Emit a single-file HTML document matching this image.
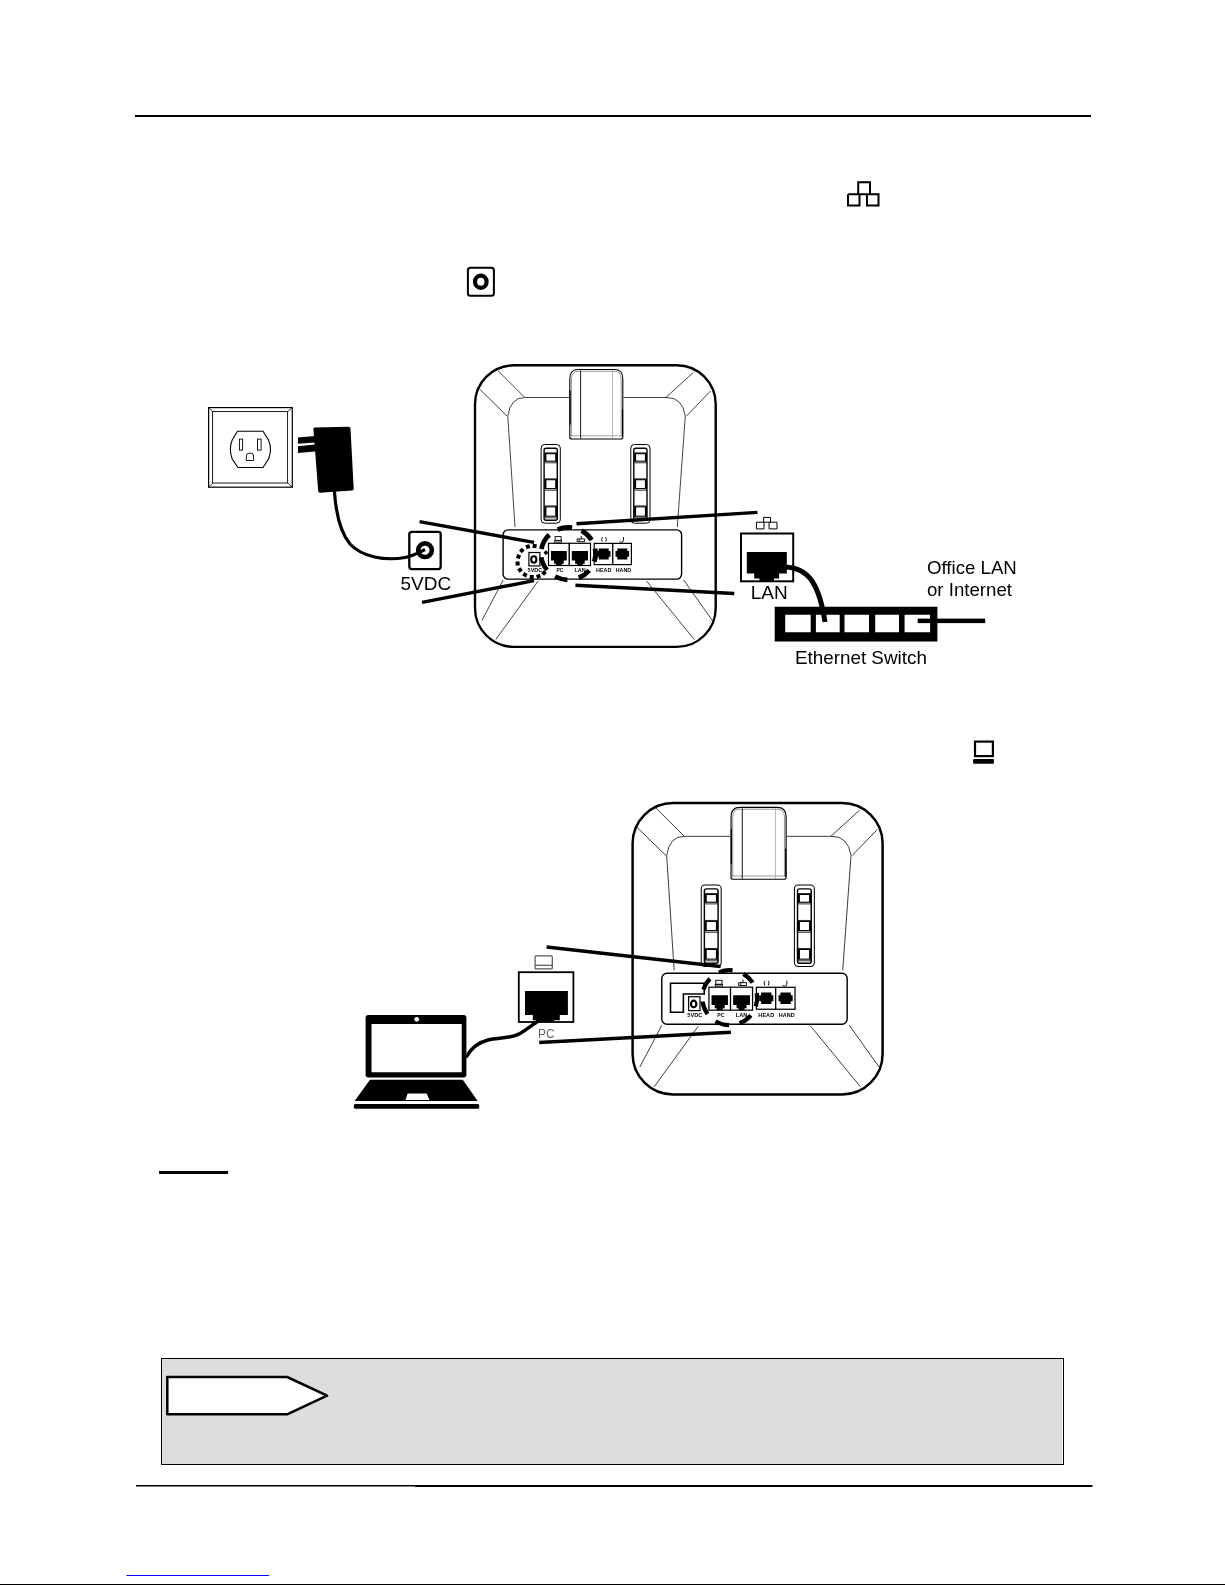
<!DOCTYPE html>
<html><head><meta charset="utf-8"><style>
html,body{margin:0;padding:0;background:#fff;width:1225px;height:1585px;overflow:hidden}
svg{position:absolute;left:0;top:0;display:block;will-change:transform}
</style></head><body>
<svg width="1225" height="1585" viewBox="0 0 1225 1585">
<rect x="135" y="115" width="956" height="2" fill="#000"/>
<path d="M858.2,194.2 V182.3 H870 V194.2 M848,194.2 H878.5 V205.6 H867 V194.2 M848,194.2 V205.6 H859.5 V194.2" fill="none" stroke="#000" stroke-width="2"/>
<rect x="467.9" y="267.8" width="26" height="27.9" rx="2.5" fill="none" stroke="#000" stroke-width="2"/>
<ellipse cx="480.8" cy="281.7" rx="5.8" ry="6.1" fill="none" stroke="#000" stroke-width="4.2"/>
<rect x="208.6" y="407.6" width="83.7" height="79.6" fill="#fff" stroke="#000" stroke-width="1.2"/>
<rect x="212.6" y="411.6" width="75" height="71.4" fill="none" stroke="#000" stroke-width="0.9"/>
<path d="M208.6,407.6 L212.9,411.7 M292.3,407.6 L287.6,411.7 M208.6,487.2 L212.9,482.9 M292.3,487.2 L287.6,482.9" stroke="#000" stroke-width="0.8"/>
<path d="M237.5,431.3 H263 L268.5,440 Q272.5,449.5 268.5,459 L263,467.5 H238 L232.2,459 Q228.5,449.5 232.2,440 Z" fill="#fff" stroke="#000" stroke-width="1.1"/>
<rect x="239.4" y="439.1" width="3.2" height="11" fill="none" stroke="#000" stroke-width="0.9"/>
<rect x="257.5" y="439.1" width="3.6" height="11" fill="none" stroke="#000" stroke-width="0.9"/>
<path d="M246.3,460.5 V456 Q246.3,453 250,453 Q253.6,453 253.6,456 V460.5 Z" fill="none" stroke="#000" stroke-width="0.9"/>
<path d="M313.4,429 Q313,427.8 315,427.6 L348.5,426.7 Q350.4,426.7 350.5,428.5 L353.7,488.5 Q353.8,490.3 352,490.5 L320,492.8 Q318.3,492.9 318.2,491 Z" fill="#000"/>
<path d="M298,437.6 L315,436 V442.5 L298,443.8 Z M298,446.2 L315,444.6 V451.4 L298,452.9 Z" fill="#000"/>
<rect x="409.3" y="531.8" width="31.4" height="37.3" rx="2.5" fill="#fff" stroke="#000" stroke-width="2.3"/>
<circle cx="425" cy="550.2" r="6.8" fill="none" stroke="#000" stroke-width="4.6"/>
<path d="M334.4,491 C336,515 340,532 350,544 C362,557 385,561 405,557.5 C414,555.5 420,552 425,549.5" fill="none" stroke="#000" stroke-width="3.2"/>
<text x="400.5" y="589.6" font-family="Liberation Sans" font-size="19" fill="#000">5VDC</text>
<g transform="translate(474.5,364.5)"><rect x="0.5" y="0.8" width="240.7" height="281.6" rx="39" ry="39" fill="#fff" stroke="#000" stroke-width="2.4"/>
<path d="M50,33 H94.5 M149,33 H192.5 Q208,33 210.8,51.5 L202.8,162.5 M50,33 Q36,33 33.3,51.5 L40.5,162.5" stroke="#222" stroke-width="0.85" fill="none"/>
<line x1="23.1" y1="5.8" x2="50.2" y2="32.9" stroke="#222" stroke-width="0.85" fill="none"/>
<line x1="4.7" y1="24.2" x2="32.6" y2="51.7" stroke="#222" stroke-width="0.85" fill="none"/>
<line x1="219" y1="7.8" x2="191.4" y2="32.9" stroke="#222" stroke-width="0.85" fill="none"/>
<line x1="236.3" y1="26.2" x2="211.8" y2="51.7" stroke="#222" stroke-width="0.85" fill="none"/>
<line x1="28.7" y1="215.5" x2="7.5" y2="255.9" stroke="#222" stroke-width="0.85" fill="none"/>
<line x1="63.7" y1="216.5" x2="21.3" y2="275" stroke="#222" stroke-width="0.85" fill="none"/>
<line x1="172" y1="216.5" x2="219.8" y2="275" stroke="#222" stroke-width="0.85" fill="none"/>
<line x1="209.1" y1="215.5" x2="237.8" y2="255.9" stroke="#222" stroke-width="0.85" fill="none"/>
<path d="M95.3,74 V14 Q95.3,5 104,5 H139.6 Q148.3,5 148.3,14 V72.5 Q148.3,74.5 146.3,74.5 H97.3 Q95.3,74.5 95.3,72.5 Z" fill="#fff" stroke="#000" stroke-width="1.1"/>
<path d="M96.9,72 V14.5 Q96.9,6.8 104.5,6.8 H139 Q146.7,6.8 146.7,14.5 V72" fill="none" stroke="#555" stroke-width="0.6"/>
<line x1="95.3" y1="71.3" x2="148.3" y2="71.3" stroke="#666" stroke-width="0.6"/>
<path d="M95.6,26 V60" stroke="#000" stroke-width="1.2"/>
<path d="M148,45 V72" stroke="#000" stroke-width="1.2"/>
<line x1="106.1" y1="6" x2="106.1" y2="74" stroke="#000" stroke-width="0.9"/>
<line x1="138" y1="6" x2="138" y2="74" stroke="#999" stroke-width="0.7"/>
<rect x="66.6" y="80" width="19.2" height="78.7" rx="3.5" fill="#fff" stroke="#000" stroke-width="1"/>
<rect x="69.6" y="83.8" width="13.2" height="71.9" rx="2" fill="#fff" stroke="#000" stroke-width="1.4"/>
<rect x="70.6" y="89.2" width="11.4" height="7.5" fill="none" stroke="#000" stroke-width="1.1"/>
<rect x="70.2" y="89.2" width="1.7" height="7.5" fill="#000"/>
<rect x="80.7" y="89.2" width="1.7" height="7.5" fill="#000"/>
<line x1="70.0" y1="98.3" x2="82.6" y2="98.3" stroke="#000" stroke-width="0.8"/>
<line x1="70.0" y1="88.3" x2="82.6" y2="88.3" stroke="#000" stroke-width="0.8"/>
<rect x="70.6" y="115.2" width="11.4" height="8.899999999999991" fill="none" stroke="#000" stroke-width="1.1"/>
<rect x="70.2" y="115.2" width="1.7" height="8.899999999999991" fill="#000"/>
<rect x="80.7" y="115.2" width="1.7" height="8.899999999999991" fill="#000"/>
<line x1="70.0" y1="125.69999999999999" x2="82.6" y2="125.69999999999999" stroke="#000" stroke-width="0.8"/>
<line x1="70.0" y1="114.3" x2="82.6" y2="114.3" stroke="#000" stroke-width="0.8"/>
<rect x="70.6" y="142.3" width="11.4" height="9.399999999999977" fill="none" stroke="#000" stroke-width="1.1"/>
<rect x="70.2" y="142.3" width="1.7" height="9.399999999999977" fill="#000"/>
<rect x="80.7" y="142.3" width="1.7" height="9.399999999999977" fill="#000"/>
<line x1="70.0" y1="153.29999999999998" x2="82.6" y2="153.29999999999998" stroke="#000" stroke-width="0.8"/>
<line x1="70.0" y1="141.4" x2="82.6" y2="141.4" stroke="#000" stroke-width="0.8"/>
<rect x="156.3" y="80" width="19.2" height="78.7" rx="3.5" fill="#fff" stroke="#000" stroke-width="1"/>
<rect x="159.3" y="83.8" width="13.2" height="71.9" rx="2" fill="#fff" stroke="#000" stroke-width="1.4"/>
<rect x="160.3" y="89.2" width="11.4" height="7.5" fill="none" stroke="#000" stroke-width="1.1"/>
<rect x="159.9" y="89.2" width="1.7" height="7.5" fill="#000"/>
<rect x="170.4" y="89.2" width="1.7" height="7.5" fill="#000"/>
<line x1="159.7" y1="98.3" x2="172.3" y2="98.3" stroke="#000" stroke-width="0.8"/>
<line x1="159.7" y1="88.3" x2="172.3" y2="88.3" stroke="#000" stroke-width="0.8"/>
<rect x="160.3" y="115.2" width="11.4" height="8.899999999999991" fill="none" stroke="#000" stroke-width="1.1"/>
<rect x="159.9" y="115.2" width="1.7" height="8.899999999999991" fill="#000"/>
<rect x="170.4" y="115.2" width="1.7" height="8.899999999999991" fill="#000"/>
<line x1="159.7" y1="125.69999999999999" x2="172.3" y2="125.69999999999999" stroke="#000" stroke-width="0.8"/>
<line x1="159.7" y1="114.3" x2="172.3" y2="114.3" stroke="#000" stroke-width="0.8"/>
<rect x="160.3" y="142.3" width="11.4" height="9.399999999999977" fill="none" stroke="#000" stroke-width="1.1"/>
<rect x="159.9" y="142.3" width="1.7" height="9.399999999999977" fill="#000"/>
<rect x="170.4" y="142.3" width="1.7" height="9.399999999999977" fill="#000"/>
<line x1="159.7" y1="153.29999999999998" x2="172.3" y2="153.29999999999998" stroke="#000" stroke-width="0.8"/>
<line x1="159.7" y1="141.4" x2="172.3" y2="141.4" stroke="#000" stroke-width="0.8"/>
<rect x="28.6" y="165.4" width="178.5" height="49.2" rx="5" fill="#fff" stroke="#000" stroke-width="1.4"/>
<rect x="54.4" y="188" width="11" height="13.4" fill="#fff" stroke="#000" stroke-width="1.2"/>
<ellipse cx="59.3" cy="195" rx="2.6" ry="3.2" fill="none" stroke="#000" stroke-width="2.1"/>
<rect x="74.0" y="178.8" width="20.799999999999997" height="22.2" fill="#fff" stroke="#000" stroke-width="1.2"/>
<path d="M76.5,186.5 H92.3 V196.1 H89.2 V199.2 H87.30000000000001 V201 H81.5 V199.2 H79.60000000000001 V196.1 H76.5 Z" fill="#000"/>
<rect x="94.8" y="178.8" width="21.200000000000003" height="22.2" fill="#fff" stroke="#000" stroke-width="1.2"/>
<path d="M97.3,186.5 H113.5 V196.1 H110.2 V199.2 H108.30000000000001 V201 H102.5 V199.2 H100.60000000000001 V196.1 H97.3 Z" fill="#000"/>
<rect x="119.7" y="178.9" width="18.60000000000001" height="21.2" fill="#fff" stroke="#000" stroke-width="1.2"/>
<path d="M124.19999999999999,183.9 H134.2 V186.5 H136.0 V192.3 H134.2 V195.1 H124.19999999999999 V192.3 H122.39999999999999 V186.5 H124.19999999999999 Z" fill="#000"/>
<rect x="138.3" y="178.9" width="18.599999999999994" height="21.2" fill="#fff" stroke="#000" stroke-width="1.2"/>
<path d="M142.8,183.9 H152.8 V186.5 H154.60000000000002 V192.3 H152.8 V195.1 H142.8 V192.3 H141.0 V186.5 H142.8 Z" fill="#000"/>
<rect x="80.6" y="172.1" width="6" height="3.8" fill="none" stroke="#000" stroke-width="0.9"/><rect x="80.1" y="176.2" width="7" height="1.5" fill="none" stroke="#000" stroke-width="0.8"/>
<path d="M102.6,174.4 h7.6 v2.8 h-7.6 z M104.7,174.4 v2.8 M106.8,171.4 v3" fill="none" stroke="#000" stroke-width="0.9"/>
<path d="M127.6,177.2 q-1,-2.5 0.3,-4.5 M131.3,172.7 q1,2 0,4.5" fill="none" stroke="#000" stroke-width="0.9"/>
<path d="M149,172.5 v3.3 q0,2 -2,2 l-2,-0.6" fill="none" stroke="#000" stroke-width="0.9"/>
<text x="60.4" y="207.3" textLength="14.6" lengthAdjust="spacingAndGlyphs" font-family="Liberation Sans" font-weight="bold" font-size="5.8" fill="#000" text-anchor="middle">5VDC</text>
<text x="85.5" y="207.3" textLength="6.9" lengthAdjust="spacingAndGlyphs" font-family="Liberation Sans" font-weight="bold" font-size="5.8" fill="#000" text-anchor="middle">PC</text>
<text x="105.5" y="207.3" textLength="11.2" lengthAdjust="spacingAndGlyphs" font-family="Liberation Sans" font-weight="bold" font-size="5.8" fill="#000" text-anchor="middle">LAN</text>
<text x="129.2" y="207.3" textLength="15.2" lengthAdjust="spacingAndGlyphs" font-family="Liberation Sans" font-weight="bold" font-size="5.8" fill="#000" text-anchor="middle">HEAD</text>
<text x="148.9" y="207.3" textLength="15.3" lengthAdjust="spacingAndGlyphs" font-family="Liberation Sans" font-weight="bold" font-size="5.8" fill="#000" text-anchor="middle">HAND</text></g>
<rect x="532.60" y="544.00" width="4" height="4" transform="rotate(-81.6 534.60 546.00)" fill="#000"/>
<rect x="525.90" y="544.70" width="4" height="4" transform="rotate(-106.6 527.90 546.70)" fill="#000"/>
<rect x="519.80" y="548.50" width="4" height="4" transform="rotate(-133.7 521.80 550.50)" fill="#000"/>
<rect x="516.50" y="554.60" width="4" height="4" transform="rotate(-160.5 518.50 556.60)" fill="#000"/>
<rect x="515.60" y="561.50" width="4" height="4" transform="rotate(172.3 517.60 563.50)" fill="#000"/>
<rect x="518.00" y="568.00" width="4" height="4" transform="rotate(145.4 520.00 570.00)" fill="#000"/>
<rect x="523.00" y="572.70" width="4" height="4" transform="rotate(118.9 525.00 574.70)" fill="#000"/>
<rect x="529.70" y="575.00" width="4" height="4" transform="rotate(92.2 531.70 577.00)" fill="#000"/>
<rect x="536.50" y="574.30" width="4" height="4" transform="rotate(67.3 538.50 576.30)" fill="#000"/>
<rect x="542.00" y="571.00" width="4" height="4" transform="rotate(44.5 544.00 573.00)" fill="#000"/>
<rect x="544.20" y="551.00" width="3.4" height="3.4" transform="rotate(-32.9 545.90 552.70)" fill="#000"/>
<path d="M557.63,529.48 A27.3,26.2 0 0 1 572.10,527.65" stroke="#000" stroke-width="4.7" fill="none" stroke-linecap="butt"/>
<path d="M581.54,530.68 A27.3,26.2 0 0 1 591.58,539.91" stroke="#000" stroke-width="4.7" fill="none" stroke-linecap="butt"/>
<path d="M595.10,548.60 A27.3,26.2 0 0 1 594.22,561.83" stroke="#000" stroke-width="4.7" fill="none" stroke-linecap="butt"/>
<path d="M589.21,570.44 A27.3,26.2 0 0 1 578.79,577.79" stroke="#000" stroke-width="4.7" fill="none" stroke-linecap="butt"/>
<path d="M567.39,579.79 A27.3,26.2 0 0 1 555.06,576.52" stroke="#000" stroke-width="4.7" fill="none" stroke-linecap="butt"/>
<path d="M547.08,570.09 A27.3,26.2 0 0 1 541.27,557.25" stroke="#000" stroke-width="4.7" fill="none" stroke-linecap="butt"/>
<path d="M541.41,549.05 A27.3,26.2 0 0 1 549.27,534.82" stroke="#000" stroke-width="4.7" fill="none" stroke-linecap="butt"/>
<line x1="419.6" y1="521.6" x2="534" y2="542.4" stroke="#000" stroke-width="3.4" stroke-linecap="butt"/>
<line x1="422" y1="602.4" x2="534" y2="580.6" stroke="#000" stroke-width="3.4" stroke-linecap="butt"/>
<line x1="576.5" y1="523.7" x2="757.5" y2="512.4" stroke="#000" stroke-width="3.4" stroke-linecap="butt"/>
<line x1="575.4" y1="585.2" x2="734.3" y2="593.5" stroke="#000" stroke-width="3.4" stroke-linecap="butt"/>
<path d="M763.6,522.2 V517.4 H770.5 V522.2 M756.4,522.2 H777 V528.9 H769.1 V522.2 M756.4,522.2 V528.9 H764 V522.2" fill="none" stroke="#000" stroke-width="1"/>
<rect x="741" y="533.5" width="52.2" height="47.8" fill="#fff" stroke="#000" stroke-width="2"/>
<path d="M746.8,552 H786.8 V573.5 H779.1 V578.6 H774 V581.5 H759.5 V578.6 H754.2 V573.5 H746.8 Z" fill="#000"/>
<text x="750.8" y="598.6" font-family="Liberation Sans" font-size="19" fill="#000">LAN</text>
<path d="M785,567 C796,567.5 806,572 812,581 C818,590 822,602 825,622" fill="none" stroke="#000" stroke-width="5"/>
<path d="M774.7,606.7 H937.4 V641.6 H774.7 Z M785.2,614.8 V632.2 H810.7 V614.8 Z M815.9,614.8 V632.2 H839.7 V614.8 Z M844.5,614.8 V632.2 H869 V614.8 Z M875.2,614.8 V632.2 H899 V614.8 Z M904.6,614.8 V632.2 H930.1 V614.8 Z" fill="#000" fill-rule="evenodd"/>
<rect x="917.7" y="618.6" width="67.5" height="4.5" fill="#000"/>
<text x="794.9" y="663.7" font-family="Liberation Sans" font-size="18.85" fill="#000">Ethernet Switch</text>
<text x="927" y="574.3" font-family="Liberation Sans" font-size="18.65" fill="#000">Office LAN</text>
<text x="927" y="595.5" font-family="Liberation Sans" font-size="18.65" fill="#000">or Internet</text>
<rect x="975" y="741.6" width="17.9" height="14.5" fill="none" stroke="#000" stroke-width="2.2"/>
<rect x="973.1" y="759.1" width="20.8" height="4.7" rx="1" fill="#000"/>
<g transform="translate(632.08,802.17) scale(1.0386,1.0348)"><rect x="0.5" y="0.8" width="240.7" height="281.6" rx="39" ry="39" fill="#fff" stroke="#000" stroke-width="2.4"/>
<path d="M50,33 H94.5 M149,33 H192.5 Q208,33 210.8,51.5 L202.8,162.5 M50,33 Q36,33 33.3,51.5 L40.5,162.5" stroke="#222" stroke-width="0.85" fill="none"/>
<line x1="23.1" y1="5.8" x2="50.2" y2="32.9" stroke="#222" stroke-width="0.85" fill="none"/>
<line x1="4.7" y1="24.2" x2="32.6" y2="51.7" stroke="#222" stroke-width="0.85" fill="none"/>
<line x1="219" y1="7.8" x2="191.4" y2="32.9" stroke="#222" stroke-width="0.85" fill="none"/>
<line x1="236.3" y1="26.2" x2="211.8" y2="51.7" stroke="#222" stroke-width="0.85" fill="none"/>
<line x1="28.7" y1="215.5" x2="7.5" y2="255.9" stroke="#222" stroke-width="0.85" fill="none"/>
<line x1="63.7" y1="216.5" x2="21.3" y2="275" stroke="#222" stroke-width="0.85" fill="none"/>
<line x1="172" y1="216.5" x2="219.8" y2="275" stroke="#222" stroke-width="0.85" fill="none"/>
<line x1="209.1" y1="215.5" x2="237.8" y2="255.9" stroke="#222" stroke-width="0.85" fill="none"/>
<path d="M95.3,74 V14 Q95.3,5 104,5 H139.6 Q148.3,5 148.3,14 V72.5 Q148.3,74.5 146.3,74.5 H97.3 Q95.3,74.5 95.3,72.5 Z" fill="#fff" stroke="#000" stroke-width="1.1"/>
<path d="M96.9,72 V14.5 Q96.9,6.8 104.5,6.8 H139 Q146.7,6.8 146.7,14.5 V72" fill="none" stroke="#555" stroke-width="0.6"/>
<line x1="95.3" y1="71.3" x2="148.3" y2="71.3" stroke="#666" stroke-width="0.6"/>
<path d="M95.6,26 V60" stroke="#000" stroke-width="1.2"/>
<path d="M148,45 V72" stroke="#000" stroke-width="1.2"/>
<line x1="106.1" y1="6" x2="106.1" y2="74" stroke="#000" stroke-width="0.9"/>
<line x1="138" y1="6" x2="138" y2="74" stroke="#999" stroke-width="0.7"/>
<rect x="66.6" y="80" width="19.2" height="78.7" rx="3.5" fill="#fff" stroke="#000" stroke-width="1"/>
<rect x="69.6" y="83.8" width="13.2" height="71.9" rx="2" fill="#fff" stroke="#000" stroke-width="1.4"/>
<rect x="70.6" y="89.2" width="11.4" height="7.5" fill="none" stroke="#000" stroke-width="1.1"/>
<rect x="70.2" y="89.2" width="1.7" height="7.5" fill="#000"/>
<rect x="80.7" y="89.2" width="1.7" height="7.5" fill="#000"/>
<line x1="70.0" y1="98.3" x2="82.6" y2="98.3" stroke="#000" stroke-width="0.8"/>
<line x1="70.0" y1="88.3" x2="82.6" y2="88.3" stroke="#000" stroke-width="0.8"/>
<rect x="70.6" y="115.2" width="11.4" height="8.899999999999991" fill="none" stroke="#000" stroke-width="1.1"/>
<rect x="70.2" y="115.2" width="1.7" height="8.899999999999991" fill="#000"/>
<rect x="80.7" y="115.2" width="1.7" height="8.899999999999991" fill="#000"/>
<line x1="70.0" y1="125.69999999999999" x2="82.6" y2="125.69999999999999" stroke="#000" stroke-width="0.8"/>
<line x1="70.0" y1="114.3" x2="82.6" y2="114.3" stroke="#000" stroke-width="0.8"/>
<rect x="70.6" y="142.3" width="11.4" height="9.399999999999977" fill="none" stroke="#000" stroke-width="1.1"/>
<rect x="70.2" y="142.3" width="1.7" height="9.399999999999977" fill="#000"/>
<rect x="80.7" y="142.3" width="1.7" height="9.399999999999977" fill="#000"/>
<line x1="70.0" y1="153.29999999999998" x2="82.6" y2="153.29999999999998" stroke="#000" stroke-width="0.8"/>
<line x1="70.0" y1="141.4" x2="82.6" y2="141.4" stroke="#000" stroke-width="0.8"/>
<rect x="156.3" y="80" width="19.2" height="78.7" rx="3.5" fill="#fff" stroke="#000" stroke-width="1"/>
<rect x="159.3" y="83.8" width="13.2" height="71.9" rx="2" fill="#fff" stroke="#000" stroke-width="1.4"/>
<rect x="160.3" y="89.2" width="11.4" height="7.5" fill="none" stroke="#000" stroke-width="1.1"/>
<rect x="159.9" y="89.2" width="1.7" height="7.5" fill="#000"/>
<rect x="170.4" y="89.2" width="1.7" height="7.5" fill="#000"/>
<line x1="159.7" y1="98.3" x2="172.3" y2="98.3" stroke="#000" stroke-width="0.8"/>
<line x1="159.7" y1="88.3" x2="172.3" y2="88.3" stroke="#000" stroke-width="0.8"/>
<rect x="160.3" y="115.2" width="11.4" height="8.899999999999991" fill="none" stroke="#000" stroke-width="1.1"/>
<rect x="159.9" y="115.2" width="1.7" height="8.899999999999991" fill="#000"/>
<rect x="170.4" y="115.2" width="1.7" height="8.899999999999991" fill="#000"/>
<line x1="159.7" y1="125.69999999999999" x2="172.3" y2="125.69999999999999" stroke="#000" stroke-width="0.8"/>
<line x1="159.7" y1="114.3" x2="172.3" y2="114.3" stroke="#000" stroke-width="0.8"/>
<rect x="160.3" y="142.3" width="11.4" height="9.399999999999977" fill="none" stroke="#000" stroke-width="1.1"/>
<rect x="159.9" y="142.3" width="1.7" height="9.399999999999977" fill="#000"/>
<rect x="170.4" y="142.3" width="1.7" height="9.399999999999977" fill="#000"/>
<line x1="159.7" y1="153.29999999999998" x2="172.3" y2="153.29999999999998" stroke="#000" stroke-width="0.8"/>
<line x1="159.7" y1="141.4" x2="172.3" y2="141.4" stroke="#000" stroke-width="0.8"/>
<rect x="28.6" y="165.4" width="178.5" height="49.2" rx="5" fill="#fff" stroke="#000" stroke-width="1.4"/>
<path d="M37,174.9 H69.5 V185.3 H49.4 V203.1 H37 Z" fill="none" stroke="#000" stroke-width="1.5"/>
<rect x="54.4" y="188" width="11" height="13.4" fill="#fff" stroke="#000" stroke-width="1.2"/>
<ellipse cx="59.3" cy="195" rx="2.6" ry="3.2" fill="none" stroke="#000" stroke-width="2.1"/>
<rect x="74.0" y="178.8" width="20.799999999999997" height="22.2" fill="#fff" stroke="#000" stroke-width="1.2"/>
<path d="M76.5,186.5 H92.3 V196.1 H89.2 V199.2 H87.30000000000001 V201 H81.5 V199.2 H79.60000000000001 V196.1 H76.5 Z" fill="#000"/>
<rect x="94.8" y="178.8" width="21.200000000000003" height="22.2" fill="#fff" stroke="#000" stroke-width="1.2"/>
<path d="M97.3,186.5 H113.5 V196.1 H110.2 V199.2 H108.30000000000001 V201 H102.5 V199.2 H100.60000000000001 V196.1 H97.3 Z" fill="#000"/>
<rect x="119.7" y="178.9" width="18.60000000000001" height="21.2" fill="#fff" stroke="#000" stroke-width="1.2"/>
<path d="M124.19999999999999,183.9 H134.2 V186.5 H136.0 V192.3 H134.2 V195.1 H124.19999999999999 V192.3 H122.39999999999999 V186.5 H124.19999999999999 Z" fill="#000"/>
<rect x="138.3" y="178.9" width="18.599999999999994" height="21.2" fill="#fff" stroke="#000" stroke-width="1.2"/>
<path d="M142.8,183.9 H152.8 V186.5 H154.60000000000002 V192.3 H152.8 V195.1 H142.8 V192.3 H141.0 V186.5 H142.8 Z" fill="#000"/>
<rect x="80.6" y="172.1" width="6" height="3.8" fill="none" stroke="#000" stroke-width="0.9"/><rect x="80.1" y="176.2" width="7" height="1.5" fill="none" stroke="#000" stroke-width="0.8"/>
<path d="M102.6,174.4 h7.6 v2.8 h-7.6 z M104.7,174.4 v2.8 M106.8,171.4 v3" fill="none" stroke="#000" stroke-width="0.9"/>
<path d="M127.6,177.2 q-1,-2.5 0.3,-4.5 M131.3,172.7 q1,2 0,4.5" fill="none" stroke="#000" stroke-width="0.9"/>
<path d="M149,172.5 v3.3 q0,2 -2,2 l-2,-0.6" fill="none" stroke="#000" stroke-width="0.9"/>
<text x="60.4" y="207.3" textLength="14.6" lengthAdjust="spacingAndGlyphs" font-family="Liberation Sans" font-weight="bold" font-size="5.8" fill="#000" text-anchor="middle">5VDC</text>
<text x="85.5" y="207.3" textLength="6.9" lengthAdjust="spacingAndGlyphs" font-family="Liberation Sans" font-weight="bold" font-size="5.8" fill="#000" text-anchor="middle">PC</text>
<text x="105.5" y="207.3" textLength="11.2" lengthAdjust="spacingAndGlyphs" font-family="Liberation Sans" font-weight="bold" font-size="5.8" fill="#000" text-anchor="middle">LAN</text>
<text x="129.2" y="207.3" textLength="15.2" lengthAdjust="spacingAndGlyphs" font-family="Liberation Sans" font-weight="bold" font-size="5.8" fill="#000" text-anchor="middle">HEAD</text>
<text x="148.9" y="207.3" textLength="15.3" lengthAdjust="spacingAndGlyphs" font-family="Liberation Sans" font-weight="bold" font-size="5.8" fill="#000" text-anchor="middle">HAND</text></g>
<path d="M718.95,972.39 A27.5,27.5 0 0 1 732.57,970.35" stroke="#000" stroke-width="4.3" fill="none" stroke-linecap="butt"/>
<path d="M743.28,973.79 A27.5,27.5 0 0 1 752.68,982.60" stroke="#000" stroke-width="4.3" fill="none" stroke-linecap="butt"/>
<path d="M756.82,993.16 A27.5,27.5 0 0 1 755.78,1006.43" stroke="#000" stroke-width="4.3" fill="none" stroke-linecap="butt"/>
<path d="M750.77,1015.38 A27.5,27.5 0 0 1 739.60,1023.36" stroke="#000" stroke-width="4.3" fill="none" stroke-linecap="butt"/>
<path d="M729.12,1025.19 A27.5,27.5 0 0 1 715.54,1021.27" stroke="#000" stroke-width="4.3" fill="none" stroke-linecap="butt"/>
<path d="M707.57,1014.02 A27.5,27.5 0 0 1 702.47,1001.53" stroke="#000" stroke-width="4.3" fill="none" stroke-linecap="butt"/>
<path d="M703.42,989.61 A27.5,27.5 0 0 1 709.82,978.70" stroke="#000" stroke-width="4.3" fill="none" stroke-linecap="butt"/>
<line x1="546.6" y1="947" x2="720.6" y2="966.5" stroke="#000" stroke-width="3.4" stroke-linecap="butt"/>
<line x1="539.2" y1="1042.5" x2="730.9" y2="1032.3" stroke="#000" stroke-width="3.4" stroke-linecap="butt"/>
<rect x="535.1" y="955.9" width="17.2" height="13" rx="1" fill="none" stroke="#555" stroke-width="1.2"/>
<line x1="535.1" y1="965.3" x2="552.3" y2="965.3" stroke="#555" stroke-width="1.2"/>
<rect x="518.8" y="972.2" width="54.6" height="49.8" fill="#fff" stroke="#000" stroke-width="1.8"/>
<path d="M525,991.1 H567.9 V1014.9 H559.8 V1020.2 H554 V1022 H537 V1020.2 H532.8 V1014.9 H525 Z" fill="#000"/>
<text x="538" y="1037.8" font-family="Liberation Sans" font-size="13.2" textLength="16.6" lengthAdjust="spacingAndGlyphs" fill="#666">PC</text>
<path d="M466,1057.4 C470,1050 476,1043 488,1040 C498,1037.5 510,1039 520,1033.5 C526,1030 531,1026 538,1021" fill="none" stroke="#000" stroke-width="3.4"/>
<path d="M368.5,1014.9 H463.6 Q466.4,1014.9 466.4,1017.7 V1074.8 Q466.4,1077.5 463.6,1077.5 H368.4 Q365.6,1077.5 365.6,1074.8 V1017.7 Q365.6,1014.9 368.5,1014.9 Z M371.5,1024 V1072.2 H461.7 V1024 Z" fill="#000" fill-rule="evenodd"/>
<circle cx="416.7" cy="1019.3" r="2.4" fill="#fff"/>
<path d="M370,1079.8 H462.8 L477.7,1100.9 H354.6 Z M407.6,1093.4 H426.7 L429.5,1099.9 H405.5 Z" fill="#000" fill-rule="evenodd"/>
<rect x="353.9" y="1104" width="125.3" height="4.7" rx="1.5" fill="#000"/>
<rect x="159" y="1171" width="69" height="3" fill="#000"/>
<rect x="161.5" y="1358.5" width="902" height="106" fill="#dddddd" stroke="#000" stroke-width="1"/>
<rect x="1062" y="1359" width="1" height="105" fill="#fff"/>
<path d="M167.3,1377 H287.1 L327.1,1395.6 L287.1,1414.3 H167.3 Z" fill="#fff" stroke="#000" stroke-width="2.5" stroke-linejoin="round"/>
<rect x="136" y="1485" width="279" height="1.5" fill="#000"/>
<rect x="415" y="1485" width="677.5" height="2" fill="#000"/>
<rect x="126.5" y="1575" width="142.4" height="1" fill="#0000ff"/>
<rect x="0" y="1584" width="1225" height="1" fill="#000"/>
</svg></body></html>
